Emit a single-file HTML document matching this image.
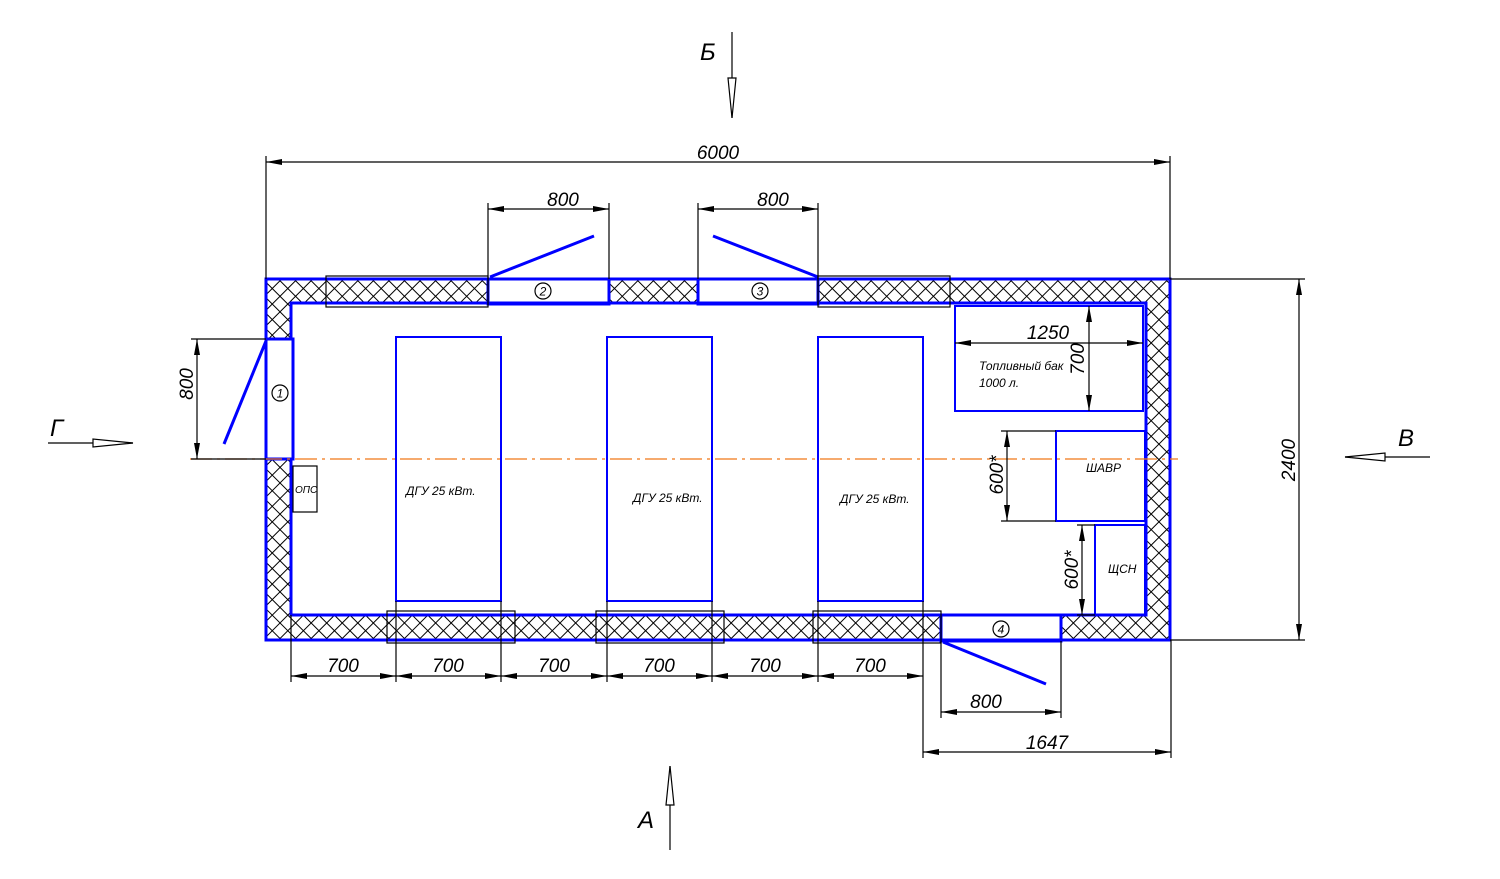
<!DOCTYPE html>
<html><head><meta charset="utf-8"><style>
html,body{margin:0;padding:0;background:#fff;}
svg{display:block;}
text{font-family:"Liberation Sans","DejaVu Sans",sans-serif;font-style:italic;fill:#000;}
</style></head><body>
<svg width="1500" height="879" viewBox="0 0 1500 879" xmlns="http://www.w3.org/2000/svg">
<defs>
<pattern id="h" width="11" height="11" patternUnits="userSpaceOnUse" patternTransform="rotate(45)">
<line x1="0" y1="0" x2="0" y2="11" stroke="#000" stroke-width="2"/>
<line x1="0" y1="0" x2="11" y2="0" stroke="#000" stroke-width="2"/>
</pattern>
<marker id="a" viewBox="0 0 16 6" refX="16" refY="3" markerWidth="16" markerHeight="6" markerUnits="userSpaceOnUse" orient="auto-start-reverse">
<path d="M0,0 L16,3 L0,6 Z" fill="#000"/>
</marker>
</defs>
<rect width="1500" height="879" fill="#fff"/>

<rect x="266" y="279" width="904" height="361" fill="url(#h)"/>
<rect x="291" y="303" width="855" height="312" fill="#fff"/>
<rect x="488" y="279" width="121" height="25" fill="#fff"/>
<rect x="698" y="279" width="120" height="25" fill="#fff"/>
<rect x="266" y="339" width="27" height="120" fill="#fff"/>
<rect x="941" y="615" width="120" height="26" fill="#fff"/>

<g fill="none" stroke="#0000ff" stroke-width="3">
<rect x="266" y="279" width="904" height="361"/>
<path d="M291,459 V615 H941 M1061,615 H1146 V303 H291 V339"/>
<rect x="488" y="279" width="121" height="25"/>
<rect x="698" y="279" width="120" height="25"/>
<rect x="266" y="339" width="27" height="120"/>
<rect x="941" y="615" width="120" height="26"/>
</g>
<g stroke="#0000ff" stroke-width="3">
<line x1="490" y1="277" x2="594" y2="236"/>
<line x1="713" y1="236" x2="818" y2="277"/>
<line x1="266" y1="341" x2="224" y2="444"/>
<line x1="943" y1="642" x2="1046" y2="684"/>
</g>

<g fill="none" stroke="#000" stroke-width="1.2">
<rect x="326" y="276" width="162" height="31"/>
<rect x="818" y="276" width="132" height="31"/>
<rect x="387" y="611" width="128" height="32"/>
<rect x="596" y="611" width="128" height="32"/>
<rect x="813" y="611" width="128" height="32"/>
<rect x="293" y="466" width="24" height="46"/>
</g>

<g fill="none" stroke="#0000ff" stroke-width="2">
<rect x="396" y="337" width="105" height="264"/>
<rect x="607" y="337" width="105" height="264"/>
<rect x="818" y="337" width="105" height="264"/>
<rect x="955" y="306" width="188" height="105"/>
<rect x="1056" y="431" width="89" height="90"/>
<rect x="1095" y="525" width="50" height="90"/>
</g>

<line x1="190" y1="459" x2="1178" y2="459" stroke="#f07818" stroke-width="1.2" stroke-dasharray="22,5,3,5"/>

<g fill="none" stroke="#000" stroke-width="1.2">
<circle cx="543" cy="291" r="8"/><circle cx="760" cy="291" r="8"/>
<circle cx="280" cy="393" r="8"/><circle cx="1001" cy="629" r="8"/>
</g>
<g font-size="12" text-anchor="middle">
<text x="543" y="295.5">2</text><text x="760" y="295.5">3</text>
<text x="280" y="397.5">1</text><text x="1001" y="633.5">4</text>
</g>

<g stroke="#000" stroke-width="1.2" fill="none">
<path d="M266,156V279 M1170,156V279 M488,203V279 M609,203V279 M698,203V279 M818,203V279
M191,339H266 M191,459H266 M1170,279H1305 M1170,640H1305
M291,615V682 M396,601V682 M501,601V682 M607,601V682 M712,601V682 M818,601V682 M923,601V682
M941,641V718 M1061,641V718 M923,643V758 M1171,640V758
M1001,431H1056 M1001,521H1056 M1077,525H1095 M1077,615H1095"/>
</g>
<g stroke="#000" stroke-width="1.2" marker-start="url(#a)" marker-end="url(#a)">
<line x1="266" y1="162" x2="1170" y2="162"/>
<line x1="488" y1="209" x2="609" y2="209"/>
<line x1="698" y1="209" x2="818" y2="209"/>
<line x1="197" y1="339" x2="197" y2="459"/>
<line x1="1299" y1="279" x2="1299" y2="640"/>
<line x1="291" y1="676" x2="396" y2="676"/>
<line x1="396" y1="676" x2="501" y2="676"/>
<line x1="501" y1="676" x2="607" y2="676"/>
<line x1="607" y1="676" x2="712" y2="676"/>
<line x1="712" y1="676" x2="818" y2="676"/>
<line x1="818" y1="676" x2="923" y2="676"/>
<line x1="941" y1="712" x2="1061" y2="712"/>
<line x1="923" y1="752" x2="1171" y2="752"/>
<line x1="955" y1="343" x2="1143" y2="343"/>
<line x1="1089" y1="306" x2="1089" y2="411"/>
<line x1="1007" y1="431" x2="1007" y2="521"/>
<line x1="1082" y1="525" x2="1082" y2="615"/>
</g>

<g font-size="19" text-anchor="middle">
<text x="718" y="159">6000</text>
<text x="563" y="206">800</text>
<text x="773" y="206">800</text>
<text x="1048" y="339">1250</text>
<text x="343" y="672">700</text>
<text x="448" y="672">700</text>
<text x="554" y="672">700</text>
<text x="659" y="672">700</text>
<text x="765" y="672">700</text>
<text x="870" y="672">700</text>
<text x="986" y="708">800</text>
<text x="1047" y="749">1647</text>
<text transform="translate(193,384) rotate(-90)">800</text>
<text transform="translate(1295,460) rotate(-90)">2400</text>
<text transform="translate(1084,359) rotate(-90)">700</text>
<text transform="translate(1003,475) rotate(-90)">600*</text>
<text transform="translate(1078,570) rotate(-90)">600*</text>
</g>

<g font-size="12">
<text x="406" y="495">ДГУ 25 кВт.</text>
<text x="633" y="502">ДГУ 25 кВт.</text>
<text x="840" y="503">ДГУ 25 кВт.</text>
<text x="979" y="370">Топливный бак</text>
<text x="979" y="387">1000 л.</text>
<text x="1086" y="472">ШАВР</text>
<text x="1108" y="573">ЩСН</text>
<text x="295" y="493" font-size="10">ОПС</text>
</g>

<g stroke="#000" stroke-width="1.2" fill="#fff">
<line x1="732" y1="32" x2="732" y2="118"/>
<path d="M728,78 L736,78 L732,118 Z"/>
<line x1="670" y1="850" x2="670" y2="766"/>
<path d="M666,805 L674,805 L670,766 Z"/>
<line x1="48" y1="443" x2="133" y2="443"/>
<path d="M93,439 L93,447 L133,443 Z"/>
<line x1="1430" y1="457" x2="1345" y2="457"/>
<path d="M1385,453 L1385,461 L1345,457 Z"/>
</g>
<g font-size="24">
<text x="700" y="60">Б</text>
<text x="638" y="828">А</text>
<text x="50" y="436">Г</text>
<text x="1398" y="446">В</text>
</g>
</svg>
</body></html>
